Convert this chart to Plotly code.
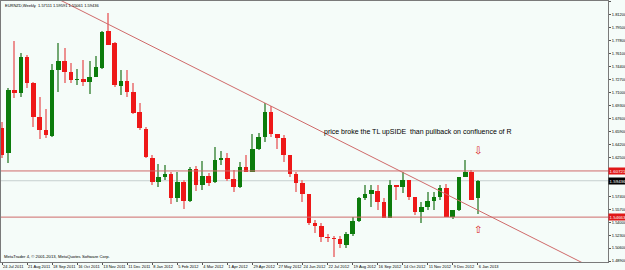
import plotly.graph_objects as go

# ---- data (EURNZD weekly candles) ----
OPEN = [1.6636, 1.6308, 1.7135, 1.7095, 1.7568, 1.7227, 1.6780, 1.6610, 1.6531, 1.7397,
        1.7515, 1.7371, 1.7266, 1.7279, 1.7240, 1.7305, 1.7424, 1.7909, 1.7752, 1.7187,
        1.7253, 1.7108, 1.6846, 1.6623, 1.6242, 1.5927, 1.5993, 1.6032, 1.5717, 1.5927,
        1.5678, 1.6098, 1.5888, 1.6006, 1.5927, 1.6216, 1.6242, 1.5966, 1.5861, 1.6124,
        1.6058, 1.6360, 1.6518, 1.6846, 1.6557, 1.6505, 1.6281, 1.6032, 1.5914, 1.5770,
        1.5389, 1.5349, 1.5205, 1.5192, 1.5179, 1.5100, 1.5244, 1.5415, 1.5717, 1.5770,
        1.5809, 1.5664, 1.5454, 1.5888, 1.5861, 1.5953, 1.5730, 1.5533, 1.5599, 1.5678,
        1.5730, 1.5848, 1.5468, 1.5559, 1.5993, 1.6058, 1.5711]
HIGH = [1.6715, 1.7161, 1.7778, 1.7620, 1.7594, 1.7240, 1.7043, 1.6885, 1.7476, 1.7752,
        1.7686, 1.7489, 1.7410, 1.7529, 1.7515, 1.7581, 1.7909, 1.8145, 1.7765, 1.7397,
        1.7397, 1.7227, 1.6964, 1.6649, 1.6281, 1.6163, 1.6150, 1.6058, 1.6058, 1.5953,
        1.6124, 1.6137, 1.6203, 1.6045, 1.6386, 1.6334, 1.6308, 1.6085, 1.6190, 1.6281,
        1.6557, 1.6570, 1.6964, 1.6925, 1.6557, 1.6544, 1.6281, 1.6058, 1.5953, 1.5770,
        1.5428, 1.5389, 1.5244, 1.5218, 1.5218, 1.5271, 1.5468, 1.5730, 1.5888, 1.5888,
        1.5888, 1.5717, 1.5953, 1.5888, 1.6058, 1.5953, 1.5730, 1.5664, 1.5796, 1.5796,
        1.5888, 1.5901, 1.5559, 1.5993, 1.6216, 1.6085, 1.5959]
LOW = [1.6242, 1.6176, 1.7030, 1.7043, 1.7161, 1.6649, 1.6491, 1.6505, 1.6518, 1.7108,
       1.7227, 1.7227, 1.7200, 1.7187, 1.7082, 1.7305, 1.7410, 1.7725, 1.7174, 1.7069,
       1.7043, 1.6820, 1.6610, 1.6242, 1.5888, 1.5861, 1.5953, 1.5638, 1.5664, 1.5573,
       1.5664, 1.5809, 1.5822, 1.5874, 1.5914, 1.6150, 1.5940, 1.5796, 1.5848, 1.6058,
       1.6058, 1.6347, 1.6452, 1.6518, 1.6360, 1.6190, 1.5993, 1.5796, 1.5664, 1.5362,
       1.5257, 1.5139, 1.5139, 1.4942, 1.5061, 1.5061, 1.5218, 1.5402, 1.5691, 1.5599,
       1.5559, 1.5454, 1.5454, 1.5691, 1.5783, 1.5691, 1.5494, 1.5389, 1.5559, 1.5559,
       1.5691, 1.5468, 1.5441, 1.5546, 1.5993, 1.5691, 1.5506]
CLOSE = [1.6281, 1.7135, 1.7095, 1.7568, 1.7227, 1.6780, 1.6610, 1.6544, 1.7397, 1.7515,
         1.7371, 1.7266, 1.7279, 1.7240, 1.7305, 1.7437, 1.7896, 1.7725, 1.7200, 1.7253,
         1.7108, 1.6833, 1.6636, 1.6255, 1.5927, 1.5993, 1.6032, 1.5717, 1.5927, 1.5678,
         1.6098, 1.5888, 1.6006, 1.5914, 1.6216, 1.6242, 1.5966, 1.5861, 1.6124, 1.6058,
         1.6360, 1.6518, 1.6846, 1.6557, 1.6505, 1.6281, 1.6032, 1.5914, 1.5770, 1.5389,
         1.5349, 1.5205, 1.5192, 1.5179, 1.5113, 1.5244, 1.5415, 1.5717, 1.5770, 1.5822,
         1.5664, 1.5454, 1.5888, 1.5861, 1.5953, 1.5730, 1.5533, 1.5599, 1.5678, 1.5730,
         1.5848, 1.5468, 1.5559, 1.5993, 1.6058, 1.5691, 1.5943]

DATE_TICK_IDX = [0, 4, 8, 12, 16, 20, 24, 28, 32, 36, 40, 44, 48, 52, 56, 60, 64, 68, 72, 76]
DATE_LABELS = ["24 Jul 2011", "21 Aug 2011", "18 Sep 2011", "16 Oct 2011", "13 Nov 2011",
               "11 Dec 2011", "8 Jan 2012", "5 Feb 2012", "4 Mar 2012", "1 Apr 2012",
               "29 Apr 2012", "27 May 2012", "24 Jun 2012", "22 Jul 2012", "19 Aug 2012",
               "16 Sep 2012", "14 Oct 2012", "11 Nov 2012", "9 Dec 2012", "6 Jan 2013"]
PRICE_TICKS = [1.48900, 1.50600, 1.52300, 1.54000, 1.55700, 1.57400, 1.59100, 1.60800,
               1.62500, 1.64200, 1.65900, 1.67600, 1.69300, 1.71000, 1.72700, 1.74400,
               1.76100, 1.77800, 1.79500, 1.81200, 1.82900]
LEVELS = [1.60721, 1.54663]
BID = 1.59436
TL_IDX = [10, 90]
TL_PRICE = [1.8286, 1.4979]
NOTE = "price broke the TL upSIDE\u00a0 than pullback on confluence of R"
NOTE_POS = (51.1, 1.6590)
ARROW_IDX = 76
ARROW_DOWN_PRICE = 1.6337
ARROW_UP_PRICE = 1.5303
HEADER = "EURNZD,Weekly\u00a0 1.57111 1.59591 1.55061 1.59436"
COPYRIGHT = "MetaTrader 4, \u00a9 2001-2013, MetaQuotes Software Corp."

# ---- style ----
BG = "#f5fcf9"
UP_BODY, UP_WICK = "#0c7c0c", "#72a872"
DN_BODY, DN_WICK = "#ee1818", "#ec9090"
LINE_RED = "#cf6a6a"
FONT = "Liberation Sans, Arial, sans-serif"

X_RANGE = [-0.16, 96.8]
Y_RANGE = [1.4877, 1.8303]

idx = list(range(len(OPEN)))
up = [c >= o for o, c in zip(OPEN, CLOSE)]
body_base = [min(o, c) for o, c in zip(OPEN, CLOSE)]
body_h = [max(abs(c - o), 0.0011) for o, c in zip(OPEN, CLOSE)]

fig = go.Figure()
# wicks
fig.add_trace(go.Bar(x=idx, y=[h - l for h, l in zip(HIGH, LOW)], base=LOW, width=0.17,
                     marker=dict(color=[UP_WICK if u else DN_WICK for u in up], line=dict(width=0)),
                     hoverinfo="skip"))
# bodies
fig.add_trace(go.Bar(x=idx, y=body_h, base=body_base, width=0.72,
                     marker=dict(color=[UP_BODY if u else DN_BODY for u in up], line=dict(width=0)),
                     hoverinfo="skip"))

# trendline extended across the plot (clipped to the axes)
slope = (TL_PRICE[1] - TL_PRICE[0]) / (TL_IDX[1] - TL_IDX[0])
tl_x = [X_RANGE[0], X_RANGE[1]]
tl_y = [TL_PRICE[0] + slope * (x - TL_IDX[0]) for x in tl_x]
fig.add_trace(go.Scatter(x=tl_x, y=tl_y, mode="lines", line=dict(color=LINE_RED, width=1),
                         hoverinfo="skip"))

shapes = []
for lv in LEVELS:
    shapes.append(dict(type="line", xref="paper", x0=0, x1=1, yref="y", y0=lv, y1=lv,
                       line=dict(color=LINE_RED, width=1)))
shapes.append(dict(type="line", xref="paper", x0=0, x1=1, yref="y", y0=BID, y1=BID,
                   line=dict(color="#c6cfcf", width=1), layer="below"))

annotations = [
    dict(x=NOTE_POS[0], y=NOTE_POS[1], xref="x", yref="y", text=NOTE, showarrow=False,
         xanchor="left", yanchor="middle", font=dict(family=FONT, size=7, color="#000")),
    dict(x=ARROW_IDX, y=ARROW_DOWN_PRICE, xref="x", yref="y", text="\u21e9", showarrow=False,
         font=dict(family="DejaVu Sans", size=10, color="#d81010")),
    dict(x=ARROW_IDX, y=ARROW_UP_PRICE, xref="x", yref="y", text="\u21e7", showarrow=False,
         font=dict(family="DejaVu Sans", size=10, color="#d81010")),
    dict(x=0.003, y=1, xref="paper", yref="paper", text=HEADER, showarrow=False,
         xanchor="left", yanchor="top", font=dict(family=FONT, size=4, color="#000")),
    dict(x=0.002, y=0.005, xref="paper", yref="paper", text=COPYRIGHT, showarrow=False,
         xanchor="left", yanchor="bottom", font=dict(family=FONT, size=4.2, color="#000")),
]
for lv, col in [(LEVELS[0], "#e01818"), (BID, "#000000"), (LEVELS[1], "#e01818")]:
    annotations.append(dict(x=1.0, y=lv, xref="paper", yref="y", text="%.5f" % lv,
                            showarrow=False, xanchor="left", yanchor="middle",
                            bgcolor=col, borderpad=0.6,
                            font=dict(family=FONT, size=4.4, color="#ffffff")))

# tick labels hidden behind the level boxes are left blank
covered = [1.59100, 1.60800]
price_text = ["" if v in covered else "%.5f" % v for v in PRICE_TICKS]

fig.update_layout(
    width=625, height=270, margin=dict(l=1, r=17, t=1, b=8, autoexpand=False),
    paper_bgcolor=BG, plot_bgcolor=BG, showlegend=False,
    barmode="overlay", bargap=0, shapes=shapes, annotations=annotations,
    xaxis=dict(range=X_RANGE, tickvals=DATE_TICK_IDX, ticktext=DATE_LABELS,
               tickfont=dict(family=FONT, size=4, color="#000"), ticks="outside",
               ticklen=2, tickcolor="#555", tickangle=0, automargin=False,
               ticklabelposition="outside right",
               showgrid=False, zeroline=False, showline=True, linecolor="#7a7a7a",
               linewidth=1, mirror=True, fixedrange=True),
    yaxis=dict(range=Y_RANGE, side="right", tickvals=PRICE_TICKS, ticktext=price_text,
               tickfont=dict(family=FONT, size=4, color="#000"), ticks="outside",
               ticklen=2, tickcolor="#555", showgrid=False, zeroline=False, automargin=False,
               showline=True, linecolor="#7a7a7a", linewidth=1, mirror=True,
               fixedrange=True),
)

fig.write_html("out.html")
